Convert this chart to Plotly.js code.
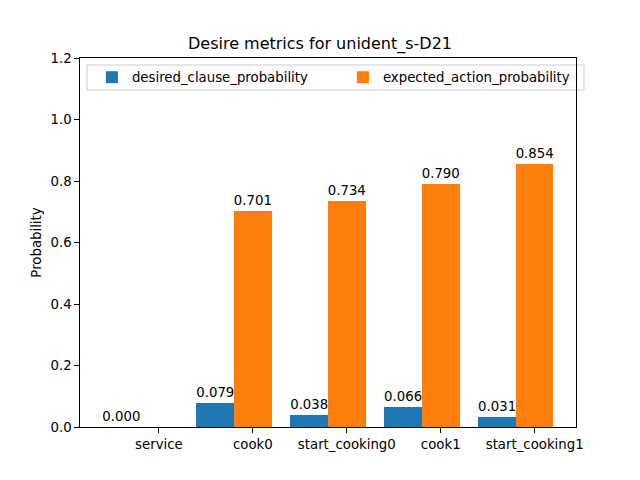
<!DOCTYPE html>
<html>
<head>
<meta charset="utf-8">
<script src="https://cdn.plot.ly/plotly-3.0.1.min.js"></script>
<style>body{margin:0;padding:0;background:#fff;} #chart{width:640px;height:480px;}</style>
</head>
<body>
<div id="chart"></div>
<script>
const categories = ["service", "cook0", "start_cooking0", "cook1", "start_cooking1"];
const desiredClause = [0.000, 0.079, 0.038, 0.066, 0.031];
const expectedAction = [null, 0.701, 0.734, 0.790, 0.854];
const yTicks = [0, 0.2, 0.4, 0.6, 0.8, 1.0, 1.2];

const barWidth = 0.4;
const idx = categories.map((_, i) => i);
const font = "DejaVu Sans, sans-serif";

const traces = [
  {
    type: "bar", name: "desired_clause_probability", legend: "legend",
    x: idx, y: desiredClause, width: barWidth,
    marker: {color: "#1f77b4"},
    text: desiredClause.map(v => v === null ? "" : v.toFixed(3)),
    textposition: "outside", cliponaxis: false, constraintext: "none",
    textfont: {family: font, size: 13.3, color: "#000"}
  },
  {
    type: "bar", name: "expected_action_probability", legend: "legend2",
    x: idx.map(i => i + barWidth), y: expectedAction, width: barWidth,
    marker: {color: "#ff7f0e"},
    text: expectedAction.map(v => v === null ? "" : v.toFixed(3)),
    textposition: "outside", cliponaxis: false, constraintext: "none",
    textfont: {family: font, size: 13.3, color: "#000"}
  }
];

const legendCommon = {
  orientation: "h", xanchor: "left", yanchor: "middle", y: 0.947,
  bgcolor: "rgba(0,0,0,0)", borderwidth: 0,
  font: {family: font, size: 13.3, color: "#000"}
};

const layout = {
  width: 640, height: 480,
  margin: {l: 80, r: 64, t: 58, b: 53},
  paper_bgcolor: "#fff", plot_bgcolor: "#fff",
  font: {family: font, size: 13.3, color: "#000"},
  title: {text: "Desire metrics for unident_s-D21", font: {family: font, size: 16, color: "#000"}, x: 0.5, xanchor: "center", y: 0.91, yanchor: "middle"},
  barmode: "overlay",
  bargap: 0,
  showlegend: true,
  legend: Object.assign({}, legendCommon, {x: 0.024}),
  legend2: Object.assign({}, legendCommon, {x: 0.530}),
  shapes: [{
    type: "rect", xref: "paper", yref: "paper", layer: "below",
    x0: 0.0141, x1: 1.0161, y0: 0.913, y1: 0.981,
    line: {color: "#cccccc", width: 1}, fillcolor: "rgba(255,255,255,0.8)"
  }],
  xaxis: {
    range: [-0.44, 4.84],
    tickvals: idx.map(i => i + barWidth), ticktext: categories,
    ticks: "outside", ticklen: 4.7, tickwidth: 1, tickcolor: "#000",
    showline: true, linecolor: "#000", linewidth: 1, mirror: true,
    showgrid: false, zeroline: false,
    tickfont: {family: font, size: 13.3, color: "#000"}
  },
  yaxis: {
    range: [0, 1.2],
    tickvals: yTicks, ticktext: yTicks.map(v => v.toFixed(1)),
    ticks: "outside", ticklen: 4.7, tickwidth: 1, tickcolor: "#000",
    showline: true, linecolor: "#000", linewidth: 1, mirror: true,
    showgrid: false, zeroline: false,
    title: {text: "Probability", font: {family: font, size: 13.3, color: "#000"}, standoff: 5},
    tickfont: {family: font, size: 13.3, color: "#000"}
  }
};

Plotly.newPlot("chart", traces, layout, {displayModeBar: false, staticPlot: true});
</script>
</body>
</html>
